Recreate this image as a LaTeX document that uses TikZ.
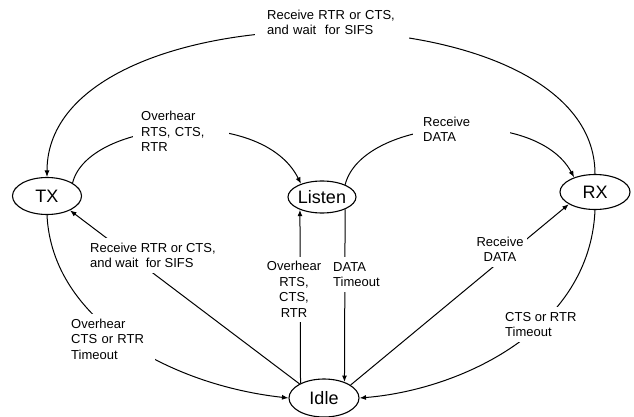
\documentclass[tikz,border=0pt]{standalone}
\usepackage{fontspec}
\setmainfont{Liberation Sans}
\usetikzlibrary{shapes.geometric,arrows.meta}
\begin{document}
\begin{tikzpicture}[x=1pt,y=-1pt,
  state/.style={ellipse,draw,line width=1.1pt,inner sep=0pt,font=\fontsize{18}{20}\selectfont},
  lbl/.style={fill=white,inner xsep=4pt,inner ysep=5pt,font=\fontsize{13}{15.5}\selectfont},
  conn/.style={line width=1pt,-{Latex[length=6.5pt,width=5pt]}}]
\useasboundingbox (0,0) rectangle (634,417);
\node[state,minimum width=69pt,minimum height=37pt] (TX) at (47,196) {TX};
\node[state,minimum width=68pt,minimum height=32pt] (Listen) at (322,197) {Listen};
\node[state,minimum width=70pt,minimum height=35pt] (RX) at (595,192) {RX};
\node[state,minimum width=70pt,minimum height=38pt] (Idle) at (324,398) {Idle};

\draw[conn] (RX.north) .. controls +(0,-190) and +(0,-193) .. (TX.north);
\draw[conn] (TX.27) .. controls (88,120) and (262,105) .. (Listen.148);
\draw[conn] (Listen.28) .. controls (362,118) and (535,105) .. (RX.145);
\draw[conn] (Idle.150) -- (TX.-32);
\draw[conn] (Idle.148) -- (Listen.210);
\draw[conn] (Listen.-28) -- (Idle.38);
\draw[conn] (Idle.26) -- (RX.205);
\draw[conn] (RX.south) .. controls (590,330) and (460,390) .. (Idle.east);
\draw[conn] (TX.south) .. controls (52,320) and (170,385) .. (Idle.west);

\node[lbl,anchor=west,inner xsep=12pt,text width=130pt,align=left] (l1) at (255,22.5) {Receive RTR or CTS,\\and wait\ \ for SIFS};
\node[lbl,anchor=west,inner xsep=8pt,text width=80pt,align=left] (l2) at (133,131.5) {Overhear\\RTS, CTS,\\RTR};
\node[lbl,anchor=west,inner xsep=10pt,text width=77pt,align=left] (l3) at (413,129.5) {Receive\\DATA};
\node[lbl,anchor=west,align=left] (l4) at (86,255.5) {Receive RTR or CTS,\\and wait\ \ for SIFS};
\node[lbl,align=center] (l5) at (294,289.5) {Overhear\\RTS,\\CTS,\\RTR};
\node[lbl,anchor=west,align=left] (l6) at (329,274.5) {DATA\\Timeout};
\node[lbl,align=center] (l7) at (500,249.5) {Receive\\DATA};
\node[lbl,anchor=west,align=left] (l8) at (501,324.5) {CTS or RTR\\Timeout};
\node[lbl,anchor=west,text width=80pt,align=left] (l9) at (67,339) {Overhear\\CTS or RTR\\Timeout};
\end{tikzpicture}
\end{document}
